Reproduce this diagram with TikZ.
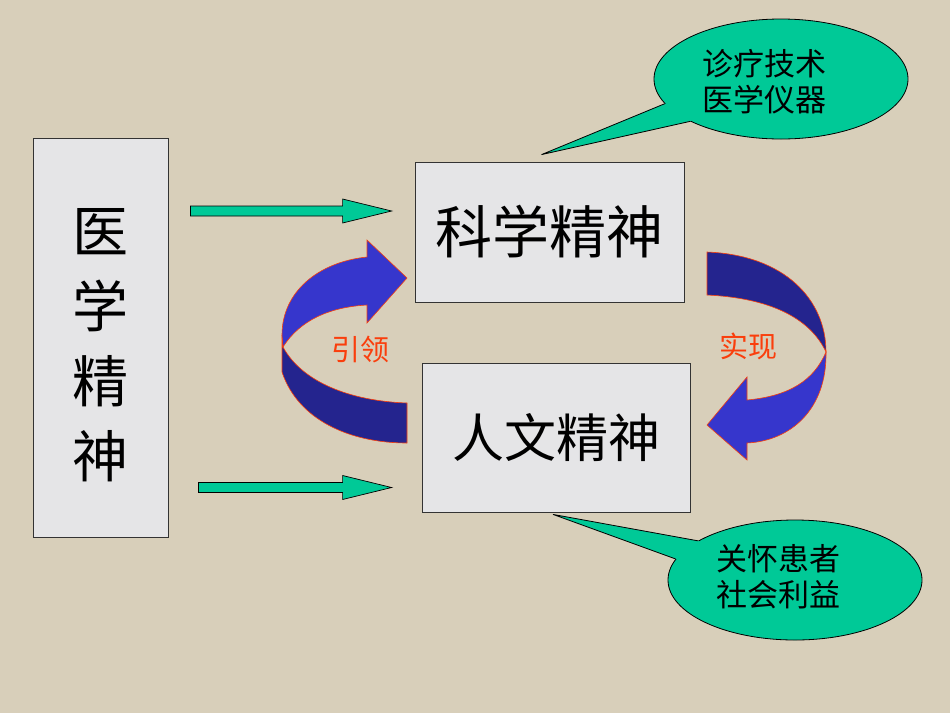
\documentclass[tikz,border=0pt]{standalone}
\usepackage{fontspec}
\newfontfamily\cjk{Noto Sans CJK SC}
\usepackage{tikz}
\usetikzlibrary{calc, positioning, shapes.geometric}
\definecolor{paper}{RGB}{216,207,186}
\definecolor{marble}{RGB}{229,229,231}
\definecolor{mint}{RGB}{0,201,151}
\definecolor{ribbonlight}{RGB}{54,54,204}
\definecolor{ribbondark}{RGB}{36,36,142}
\definecolor{leadred}{RGB}{250,62,12}
\tikzset{
  marblebox/.style={draw=black!80, fill=marble, line width=0.8pt, inner sep=0pt},
  bubble/.style={ellipse, draw=black, fill=mint, line width=0.8pt, minimum width=254, minimum height=120, inner sep=0pt},
  bubbletext/.style={align=center, font=\cjk\fontsize{31}{36}\selectfont},
  greenarrow/.style={draw=black, fill=mint, line width=0.7pt, line join=miter},
  ribbon/.style={draw=leadred, line width=0.6pt},
  leadlabel/.style={text=leadred, font=\cjk\fontsize{29}{32}\selectfont}
}
% block arrow from #1 to #2
\newcommand\blockarrow[2]{%
  \draw[greenarrow] let \p1=(#1), \p2=(#2) in
    (\x1,\y1+5pt) -- (\x2-49pt,\y1+5pt) -- (\x2-49pt,\y1+12pt) -- (\x2,\y1)
    -- (\x2-49pt,\y1-12pt) -- (\x2-49pt,\y1-5pt) -- (\x1,\y1-5pt) -- cycle;}

\begin{document}
\begin{tikzpicture}[x=1pt, y=-1pt]
        % Background
        \fill[paper] (0,0) rectangle (950,713);
        \useasboundingbox (0,0) rectangle (950,713);

        % Boxes
        \node[marblebox, minimum width=135, minimum height=399] (yixue) at (100.5,337.5) {};
        \node[align=center, font=\cjk\fontsize{56}{75}\selectfont] (yixuetext)
              at ($(yixue.center)+(0,8)$) {医\\学\\精\\神};
        \node[marblebox, minimum width=269, minimum height=140,
              font=\cjk\fontsize{57}{60}\selectfont] (kexue) at (549.5,232) {科学精神};
        \node[marblebox, minimum width=268, minimum height=149,
              font=\cjk\fontsize{52}{60}\selectfont] (renwen) at (556,437.5) {\raisebox{-4pt}{人文精神}};

        % Green arrows
        \coordinate (a1) at ($(kexue.west)+(-23,-21)$);
        \coordinate (a0) at ($(yixue.east |- a1)+(22,0)$);
        \coordinate (b1) at ($(renwen.west)+(-30,50)$);
        \coordinate (b0) at ($(yixue.east |- b1)+(30,0)$);
        \blockarrow{a0}{a1}
        \blockarrow{b0}{b1}

        % Curved arrow, left
        \draw[ribbon, fill=ribbondark] (282,335) -- (282,372) .. controls (298,420) and (350,443) .. (407,443)
            -- (407,403) .. controls (350,401) and (302,382) .. (283,347) -- cycle;
        \draw[ribbon, fill=ribbonlight] (283,347) .. controls (300,320) and (330,307) .. (367,305)
            -- (367,323) -- (407,278) -- (367,240) -- (367,257)
            .. controls (318,262) and (282,292) .. (282,335) -- cycle;

        % Curved arrow, right
        \draw[ribbon, fill=ribbondark] (707,252) .. controls (785,255) and (826,300) .. (826,352)
            .. controls (810,318) and (770,298) .. (707,295) -- cycle;
        \draw[ribbon, fill=ribbonlight] (826,352) .. controls (827,410) and (790,441) .. (747,443)
            -- (747,460) -- (707,425) -- (747,377) -- (747,400)
            .. controls (790,396) and (814,380) .. (826,352) -- cycle;

        % Labels
        \node[leadlabel] (yinling) at (360,350) {引领};
        \node[leadlabel] (shixian) at (748,346) {实现};

        % Callout, top
        \node[bubble] (zhenliao) at (781,79) {};
        \coordinate (ztip) at ($(kexue.north)+(-8,-7)$);
        \fill[mint] (ztip) -- (zhenliao.192) -- ($(zhenliao.198)!0.3!(zhenliao.center)$) -- (zhenliao.205) -- cycle;
        \draw[line width=0.8pt] (zhenliao.192) -- (ztip) -- (zhenliao.205);
        \node[bubbletext] (zhenliaotext) at ($(zhenliao.center)+(-17,3)$) {诊疗技术\\医学仪器};

        % Callout, bottom
        \node[bubble] (guanhuai) at (795,580) {};
        \coordinate (gtip) at ($(renwen.south)+(-3,2)$);
        \fill[mint] (gtip) -- (guanhuai.158) -- ($(guanhuai.164)!0.3!(guanhuai.center)$) -- (guanhuai.170) -- cycle;
        \draw[line width=0.8pt] (guanhuai.158) -- (gtip) -- (guanhuai.170);
        \node[bubbletext] (guanhuaitext) at ($(guanhuai.center)+(-17,-3)$) {关怀患者\\社会利益};
    \end{tikzpicture}
\end{document}
